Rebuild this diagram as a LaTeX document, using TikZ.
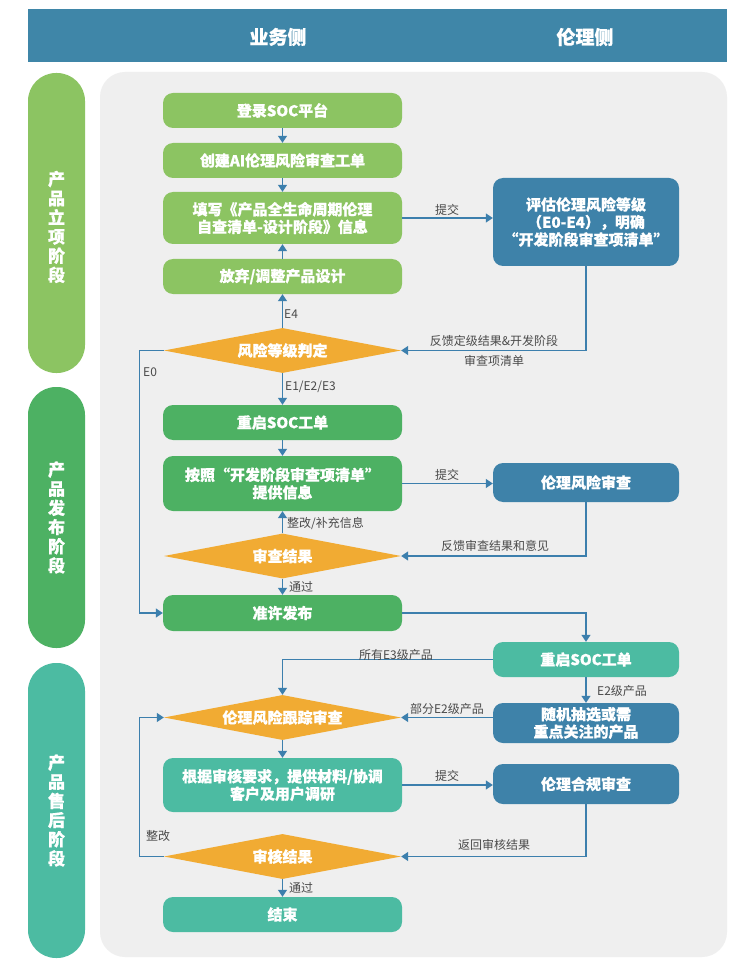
\documentclass[tikz,border=0pt]{standalone}
\usepackage{fontspec}
\setmainfont{Noto Sans CJK SC}[BoldFeatures={FakeBold=0.6}]
\usetikzlibrary{arrows.meta,shapes.geometric}
\definecolor{hdr}{HTML}{3F86A8}
\definecolor{gone}{HTML}{8CC462}
\definecolor{gtwo}{HTML}{4DB163}
\definecolor{gthree}{HTML}{4CBBA2}
\definecolor{blu}{HTML}{3E82A9}
\definecolor{org}{HTML}{F1AB33}
\definecolor{panel}{HTML}{EFEFEF}
\definecolor{lnc}{HTML}{3C7FAD}
\definecolor{lbl}{HTML}{4A4A4A}
\tikzset{
  box/.style={rectangle, rounded corners=10pt, inner sep=0pt, text=white, align=center,
    font=\fontsize{15}{17.5}\selectfont\bfseries},
  lbox/.style={box, minimum width=239pt},
  rbox/.style={box, minimum width=186pt, fill=blu},
  dia/.style={diamond, fill=org, inner sep=0pt, shape aspect=5.27, minimum width=237pt,
    minimum height=45pt, text=white, font=\fontsize{15}{17.5}\selectfont\bfseries},
  arr/.style={draw=lnc, line width=1.3pt, -{Triangle[length=7pt,width=9pt]}},
  lab/.style={text=lbl, inner sep=0pt, font=\fontsize{12}{14}\selectfont},
  phase/.style={text=white, align=center, inner sep=0pt, font=\fontsize{17}{19.2}\selectfont\bfseries},
}
\begin{document}
\begin{tikzpicture}[x=1pt,y=-1pt]
\useasboundingbox (0,0) rectangle (750,965);
\fill[white] (0,0) rectangle (750,965);
% header
\fill[hdr] (28,9) rectangle (727,62);
\node[text=white, font=\fontsize{19}{22}\selectfont\bfseries] (h1) at (278,37) {业务侧};
\node[text=white, font=\fontsize{19}{22}\selectfont\bfseries] (h2) at (585,37) {伦理侧};
% panel
\fill[panel, rounded corners=25pt] (100,72) rectangle (727,957);
% phase bars
\fill[gone, rounded corners=28pt] (28,73) rectangle (85,373);
\fill[gtwo, rounded corners=28pt] (28,387) rectangle (85,648);
\fill[gthree, rounded corners=28pt] (28,663) rectangle (85,958);
\node[phase] (p1) at (56.5,227) {产\\品\\立\\项\\阶\\段};
\node[phase] (p2) at (56.5,517.5) {产\\品\\发\\布\\阶\\段};
\node[phase] (p3) at (56.5,810.5) {产\\品\\售\\后\\阶\\段};
% left column
\node[lbox, fill=gone, minimum height=35pt] (L1) at (282.5,110.5) {登录SOC平台};
\node[lbox, fill=gone, minimum height=35pt] (L2) at (282.5,160.5) {创建AI伦理风险审查工单};
\node[lbox, fill=gone, minimum height=52pt] (L3) at (282.5,218) {填写《产品全生命周期伦理\\自查清单-设计阶段》信息};
\node[lbox, fill=gone, minimum height=35pt] (L4) at (282.5,276.5) {放弃/调整产品设计};
\node[dia] (D1) at (282.5,350.5) {风险等级判定};
\node[lbox, fill=gtwo, minimum height=35pt] (L5) at (282.5,422.5) {重启SOC工单};
\node[lbox, fill=gtwo, minimum height=55pt] (L6) at (282.5,483.5) {按照“开发阶段审查项清单”\\提供信息};
\node[dia] (D2) at (282.5,556) {审查结果};
\node[lbox, fill=gtwo, minimum height=36pt] (L7) at (282.5,613) {准许发布};
\node[dia] (D3) at (282.5,717.5) {伦理风险跟踪审查};
\node[lbox, fill=gthree, minimum height=54pt] (L8) at (282.5,785) {根据审核要求，提供材料/协调\\客户及用户调研};
\node[dia] (D4) at (282.5,856.5) {审核结果};
\node[lbox, fill=gthree, minimum height=35pt] (L9) at (282.5,914.5) {结束};
% right column
\node[rbox, minimum height=88pt] (R1) at (586,222) {评估伦理风险等级\\（E0-E4），明确\\“开发阶段审查项清单”};
\node[rbox, minimum height=39pt] (R2) at (586,482.5) {伦理风险审查};
\node[rbox, fill=gthree, minimum height=35pt] (R3) at (586,659.5) {重启SOC工单};
\node[rbox, minimum height=40pt] (R4) at (586,723) {随机抽选或需\\重点关注的产品};
\node[rbox, minimum height=40pt] (R5) at (586,784) {伦理合规审查};
% connectors
\draw[arr] (L1) -- (L2);
\draw[arr] (L2) -- (L3);
\draw[arr] (L3.east) -- (L3.east -| R1.west);
\draw[arr] (R1.south) |- (D1.east);
\draw[arr] (D1.north) -- (L4.south);
\draw[arr] (L4.north) -- (L3.south);
\draw[arr] (D1.west) -- ++(-24,0) |- (L7.west);
\draw[arr] (D1.south) -- (L5.north);
\draw[arr] (L5) -- (L6);
\draw[arr] (L6.east) -- (L6.east -| R2.west);
\draw[arr] (R2.south) |- (D2.east);
\draw[arr] (D2.north) -- (L6.south);
\draw[arr] (D2.south) -- (L7.north);
\draw[arr] (L7.east) -| (R3.north);
\draw[arr] (R3.west) -| (D3.north);
\draw[arr] (R3.south) -- (R4.north);
\draw[arr] (R4.west |- D3.east) -- (D3.east);
\draw[arr] (D3.south) -- (L8.north);
\draw[arr] (L8.east) -- (L8.east -| R5.west);
\draw[arr] (R5.south) |- (D4.east);
\draw[arr] (D4.west) -- ++(-24,0) |- (D3.west);
\draw[arr] (D4.south) -- (L9.north);
% labels
\node[lab] (t1) at (447,210) {提交};
\node[lab] (t2) at (494,341) {反馈定级结果\&开发阶段};
\node[lab] (t3) at (494,361) {审查项清单};
\node[lab, anchor=west] (t4) at (284,314) {E4};
\node[lab, anchor=west] (t5) at (143,372) {E0};
\node[lab, anchor=west] (t6) at (285,387) {E1/E2/E3};
\node[lab] (t7) at (447,475) {提交};
\node[lab, anchor=west] (t8) at (287,523) {整改/补充信息};
\node[lab] (t9) at (495,546) {反馈审查结果和意见};
\node[lab, anchor=west] (t10) at (289,587) {通过};
\node[lab] (t11) at (396,655) {所有E3级产品};
\node[lab, anchor=west] (t12) at (597,691) {E2级产品};
\node[lab] (t13) at (447,709) {部分E2级产品};
\node[lab] (t14) at (447,776) {提交};
\node[lab] (t15) at (494,845) {返回审核结果};
\node[lab, anchor=west] (t16) at (146,836) {整改};
\node[lab, anchor=west] (t17) at (289,888) {通过};
\end{tikzpicture}
\end{document}
